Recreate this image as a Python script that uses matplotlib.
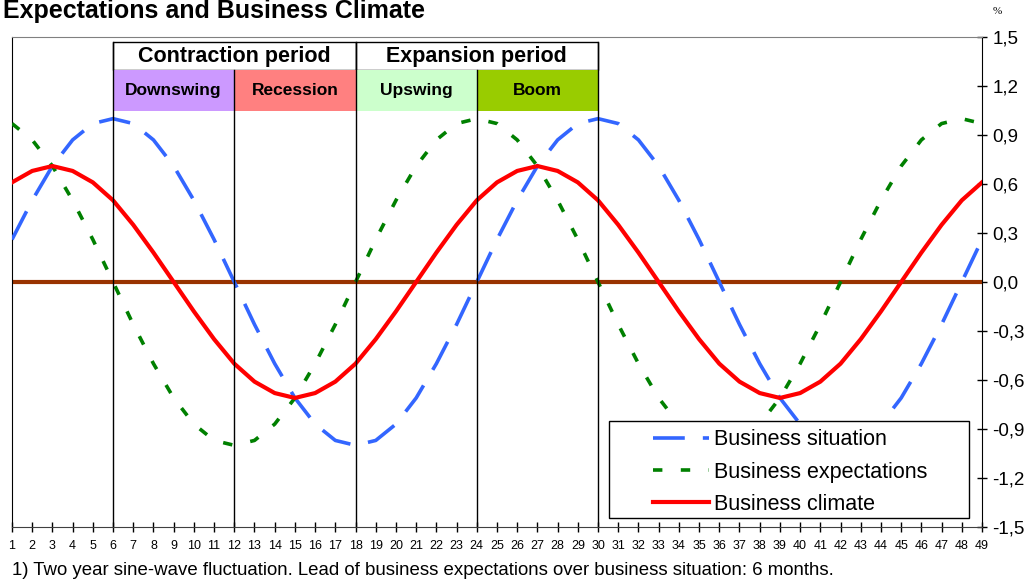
import matplotlib
matplotlib.use("Agg")
import matplotlib.pyplot as plt
from matplotlib.patches import Rectangle

plt.rcParams['font.family'] = ['Liberation Sans', 'DejaVu Sans']

# months 1..49
months = list(range(1, 50))

situation = [0.26, 0.50, 0.71, 0.87, 0.97, 1.00, 0.97, 0.87, 0.71, 0.50, 0.26, 0.00,
             -0.26, -0.50, -0.71, -0.87, -0.97, -1.00, -0.97, -0.87, -0.71, -0.50, -0.26, 0.00,
             0.26, 0.50, 0.71, 0.87, 0.97, 1.00, 0.97, 0.87, 0.71, 0.50, 0.26, 0.00,
             -0.26, -0.50, -0.71, -0.87, -0.97, -1.00, -0.97, -0.87, -0.71, -0.50, -0.26, 0.00,
             0.26]

expectations = [0.97, 0.87, 0.71, 0.50, 0.26, 0.00, -0.26, -0.50, -0.71, -0.87, -0.97, -1.00,
                -0.97, -0.87, -0.71, -0.50, -0.26, 0.00, 0.26, 0.50, 0.71, 0.87, 0.97, 1.00,
                0.97, 0.87, 0.71, 0.50, 0.26, 0.00, -0.26, -0.50, -0.71, -0.87, -0.97, -1.00,
                -0.97, -0.87, -0.71, -0.50, -0.26, 0.00, 0.26, 0.50, 0.71, 0.87, 0.97, 1.00,
                0.97]

climate = [0.61, 0.68, 0.71, 0.68, 0.61, 0.50, 0.35, 0.18, 0.00, -0.18, -0.35, -0.50,
           -0.61, -0.68, -0.71, -0.68, -0.61, -0.50, -0.35, -0.18, 0.00, 0.18, 0.35, 0.50,
           0.61, 0.68, 0.71, 0.68, 0.61, 0.50, 0.35, 0.18, 0.00, -0.18, -0.35, -0.50,
           -0.61, -0.68, -0.71, -0.68, -0.61, -0.50, -0.35, -0.18, 0.00, 0.18, 0.35, 0.50,
           0.61]

yticks = [-1.5, -1.2, -0.9, -0.6, -0.3, 0.0, 0.3, 0.6, 0.9, 1.2, 1.5]
ytick_labels = ['-1,5', '-1,2', '-0,9', '-0,6', '-0,3', '0,0', '0,3', '0,6', '0,9', '1,2', '1,5']

# phase header: (label, start month, end month, colour)
periods = [('Contraction period', 6, 18), ('Expansion period', 18, 30)]
phases = [('Downswing', 6, 12, '#CC99FF'), ('Recession', 12, 18, '#FF8080'),
          ('Upswing', 18, 24, '#CCFFCC'), ('Boom', 24, 30, '#99CC00')]

fig = plt.figure(figsize=(10.31, 5.82), dpi=100)
ax = fig.add_axes([12/1031, 1-527/582, (982-12)/1031, (527-37)/582])

ax.set_xlim(1, 49)
ax.set_ylim(-1.5, 1.5)

# zero line
ax.plot([months[0], months[-1]], [0, 0], color='#993300', lw=3, zorder=2)

ax.plot(months, situation, color='#3366FF', lw=2.6, dashes=(8.8, 5),
        dash_capstyle='butt', label='Business situation', zorder=3)
ax.plot(months, expectations, color='#008000', lw=2.6, dashes=(2.6, 5.1),
        dash_capstyle='butt', label='Business expectations', zorder=3)
ax.plot(months, climate, color='#FF0000', lw=3, label='Business climate', zorder=3)

# header boxes
y_top, y_mid, y_bot = 1.469, 1.298, 1.047
for name, x0, x1 in periods:
    ax.add_patch(Rectangle((x0, y_mid), x1 - x0, y_top - y_mid, facecolor='white',
                           edgecolor='black', lw=1, zorder=5))
    ax.text((x0 + x1) / 2, (y_top + y_mid) / 2, name, ha='center', va='center',
            fontsize=15.5, fontweight='bold', zorder=6)
for name, x0, x1, col in phases:
    ax.add_patch(Rectangle((x0, y_bot), x1 - x0, y_mid - y_bot, facecolor=col,
                           edgecolor='none', zorder=5))
    ax.text((x0 + x1) / 2, (y_mid + y_bot) / 2, name, ha='center', va='center',
            fontsize=12.5, fontweight='bold', zorder=6)

# vertical phase separators
for x0, ytop in [(6, y_top), (12, y_mid), (18, y_top), (24, y_mid), (30, y_top)]:
    ax.plot([x0, x0], [-1.5, ytop], color='black', lw=1, zorder=5)

ax.set_xticks(months)
ax.set_xticklabels([str(m) for m in months], fontsize=9)
ax.set_yticks(yticks)
ax.set_yticklabels(ytick_labels, fontsize=13.5)
ax.yaxis.tick_right()
ax.tick_params(axis='x', direction='inout', length=7, width=1, pad=6)
ax.tick_params(axis='y', direction='inout', length=7, width=1, pad=4)

ax.spines['top'].set_color('#808080')
for s in ['left', 'right']:
    ax.spines[s].set_color('black')
ax.spines['bottom'].set_color('#404040')

# legend: frame drawn separately so the handles sit well inside the box
ax.add_patch(Rectangle((609/1031, 1-518/582), 360/1031, 97/582,
                       transform=fig.transFigure, facecolor='white',
                       edgecolor='black', lw=1, zorder=9, clip_on=False))
leg = ax.legend(loc='upper left', bbox_to_anchor=(648/1031, 1-424/582),
                bbox_transform=fig.transFigure, fontsize=15.5, frameon=False,
                handlelength=2.6, handletextpad=0.2, labelspacing=0.52,
                borderpad=0.25, borderaxespad=0)
leg.set_zorder(10)

fig.text(3/1031, 1-18/582, 'Expectations and Business Climate', fontsize=18,
         fontweight='bold', ha='left', va='baseline')
fig.text(997/1031, 1-14/582, '%', fontsize=8, family='Liberation Serif',
         ha='center', va='baseline')
fig.text(12/1031, 1-575/582, '1) Two year sine-wave fluctuation. Lead of business '
         'expectations over business situation: 6 months.', fontsize=13.4,
         ha='left', va='baseline')

fig.savefig('out.png', dpi=100)
